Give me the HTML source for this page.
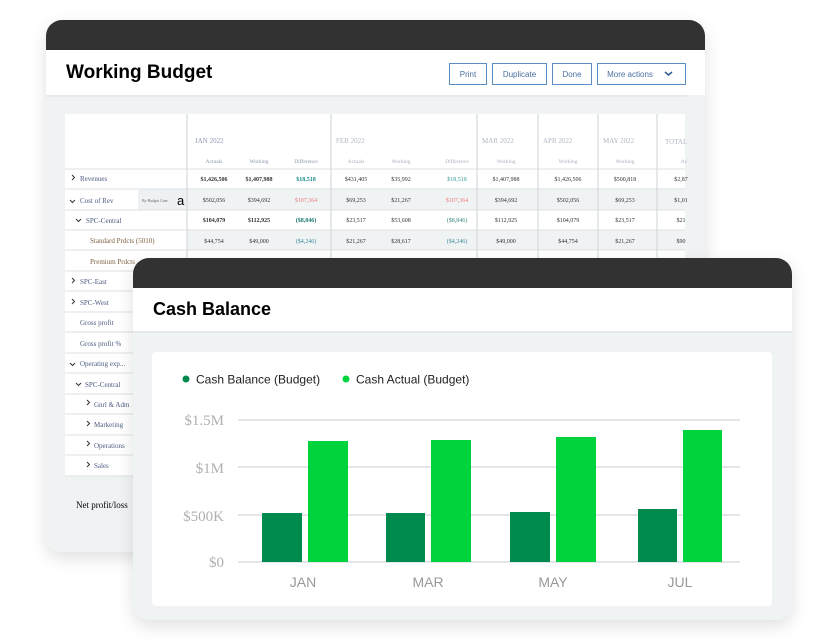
<!DOCTYPE html>
<html><head><meta charset="utf-8"><style>
html,body{margin:0;padding:0;background:#fff;width:817px;height:641px;overflow:hidden}
svg{display:block}
.s{font-family:"Liberation Serif",serif}
.a{font-family:"Liberation Sans","DejaVu Sans",sans-serif}
</style></head><body>
<svg width="817" height="641" viewBox="0 0 817 641" xmlns="http://www.w3.org/2000/svg">
<defs>
<filter id="sh" x="-10%" y="-10%" width="120%" height="125%"><feDropShadow dx="0" dy="6" stdDeviation="8" flood-color="#000" flood-opacity="0.12"/></filter>
<clipPath id="c1"><rect x="46" y="20" width="659" height="532" rx="16"/></clipPath>
<clipPath id="c2"><rect x="133" y="258" width="659" height="362" rx="16"/></clipPath>
</defs>

<!-- BACK CARD -->
<rect x="46" y="20" width="659" height="532" rx="16" fill="#f0f3f4" filter="url(#sh)"/>
<g clip-path="url(#c1)">
<rect x="46" y="20" width="659" height="30" fill="#323232"/>
<rect x="46" y="50" width="659" height="45" fill="#fff"/>
<rect x="46" y="95" width="659" height="2" fill="#e6eaec"/>
<text x="66" y="78" class="a" font-size="19" font-weight="bold" fill="#000">Working Budget</text>
<g class="a" font-size="8" fill="#4a6fa0" text-anchor="middle">
<rect x="449.5" y="63.5" width="37" height="21" fill="#fff" stroke="#5b8fc4"/><text x="468" y="77">Print</text>
<rect x="492.5" y="63.5" width="54" height="21" fill="#fff" stroke="#5b8fc4"/><text x="519.5" y="77">Duplicate</text>
<rect x="552.5" y="63.5" width="39" height="21" fill="#fff" stroke="#5b8fc4"/><text x="572" y="77">Done</text>
<rect x="597.5" y="63.5" width="88" height="21" fill="#fff" stroke="#5b8fc4"/><text x="630" y="77">More actions</text>
<path d="M665 72 l3.5 3 l3.5 -3" fill="none" stroke="#2c5d8f" stroke-width="1.5"/>
</g>
<!-- table -->
<rect x="65" y="114" width="620" height="362" fill="#fff"/>
<rect x="687" y="95" width="18" height="460" fill="#f0f3f4"/>
<rect x="187" y="189" width="498" height="21" fill="#f0f3f4"/>
<rect x="138" y="189" width="49" height="21" fill="#eef1f3"/>
<rect x="187" y="230" width="498" height="20" fill="#f0f3f4"/>
<g stroke="#e2e5e7" stroke-width="1.2">
<line x1="65" y1="169" x2="685" y2="169"/><line x1="65" y1="189" x2="685" y2="189"/>
<line x1="65" y1="210" x2="685" y2="210"/><line x1="65" y1="230" x2="685" y2="230"/>
<line x1="65" y1="250" x2="685" y2="250"/><line x1="65" y1="271" x2="685" y2="271"/>
<line x1="65" y1="291" x2="685" y2="291"/><line x1="65" y1="312" x2="685" y2="312"/>
<line x1="65" y1="332" x2="685" y2="332"/><line x1="65" y1="353" x2="685" y2="353"/>
<line x1="65" y1="373" x2="685" y2="373"/><line x1="65" y1="394" x2="685" y2="394"/>
<line x1="65" y1="414" x2="685" y2="414"/><line x1="65" y1="435" x2="685" y2="435"/>
<line x1="65" y1="455" x2="685" y2="455"/><line x1="65" y1="476" x2="685" y2="476"/>
</g>
<g stroke="#d6d9db" stroke-width="1.2">
<line x1="187" y1="114" x2="187" y2="476"/><line x1="331" y1="114" x2="331" y2="476"/>
<line x1="477" y1="114" x2="477" y2="476"/><line x1="538" y1="114" x2="538" y2="476"/>
<line x1="598" y1="114" x2="598" y2="476"/><line x1="657" y1="114" x2="657" y2="476"/>
</g>
<g class="s" font-size="7" fill="#9aa3b5">
<text x="195" y="143" fill="#8a96b0">JAN 2022</text><text x="336" y="143" fill="#b0b6c4">FEB 2022</text>
<text x="482" y="143" fill="#b0b6c4">MAR 2022</text><text x="543" y="143" fill="#b0b6c4">APR 2022</text>
<text x="603" y="143" fill="#b0b6c4">MAY 2022</text><text x="665" y="144" fill="#b0b6c4">TOTAL</text>
</g>
<g class="s" font-size="5.5" fill="#8a96b0" text-anchor="middle">
<text x="214" y="163">Actuals</text><text x="259" y="163">Working</text><text x="306" y="163">Difference</text>
<g fill="#aab1c0"><text x="356" y="163">Actuals</text><text x="401" y="163">Working</text><text x="457" y="163">Difference</text>
<text x="506" y="163">Working</text><text x="568" y="163">Working</text><text x="625" y="163">Working</text><text x="684" y="163">Ac</text></g>
</g>
<g class="s" font-size="6" fill="#333" text-anchor="middle">
<g font-weight="bold"><text x="214" y="181">$1,426,506</text><text x="259" y="181">$1,407,988</text><text x="306" y="181" fill="#1a8a8a">$18,518</text></g>
<text x="356" y="181">$431,405</text><text x="401" y="181">$35,992</text><text x="457" y="181" fill="#3a9a9a">$18,518</text><text x="506" y="181">$1,407,988</text><text x="568" y="181">$1,426,506</text><text x="625" y="181">$500,818</text><text x="681" y="181">$2,87</text>
<text x="214" y="202">$502,056</text><text x="259" y="202">$394,692</text><text x="306" y="202" fill="#f07a7a">$107,364</text>
<text x="356" y="202">$69,253</text><text x="401" y="202">$21,267</text><text x="457" y="202" fill="#f07a7a">$107,364</text><text x="506" y="202">$394,692</text><text x="568" y="202">$502,056</text><text x="625" y="202">$69,253</text><text x="681" y="202">$1,01</text>
<g font-weight="bold"><text x="214" y="222">$104,079</text><text x="259" y="222">$112,925</text><text x="306" y="222" fill="#1a7a70">($8,846)</text></g>
<text x="356" y="222">$23,517</text><text x="401" y="222">$53,608</text><text x="457" y="222" fill="#3a8a80">($8,846)</text><text x="506" y="222">$112,925</text><text x="568" y="222">$104,079</text><text x="625" y="222">$23,517</text><text x="681" y="222">$21</text>
<text x="214" y="243">$44,754</text><text x="259" y="243">$49,000</text><text x="306" y="243" fill="#3a8a9a">($4,246)</text>
<text x="356" y="243">$21,267</text><text x="401" y="243">$28,617</text><text x="457" y="243" fill="#3a8a9a">($4,246)</text><text x="506" y="243">$49,000</text><text x="568" y="243">$44,754</text><text x="625" y="243">$21,267</text><text x="681" y="243">$90</text>
</g>
<g class="s" font-size="7" fill="#4a5a80">
<text x="80" y="181">Revenues</text><text x="80" y="203">Cost of Rev</text>
<text x="86" y="223">SPC-Central</text><text x="90" y="243" fill="#806040">Standard Prdcts (5010)</text>
<text x="90" y="264" fill="#806040">Premium Prdcts</text>
<text x="80" y="284">SPC-East</text><text x="80" y="305">SPC-West</text>
<text x="80" y="325">Gross profit</text><text x="80" y="346">Gross profit %</text>
<text x="80" y="366">Operating exp...</text><text x="85" y="387">SPC-Central</text>
<text x="94" y="407">Gnrl &amp; Adm</text><text x="94" y="427">Marketing</text>
<text x="94" y="448">Operations</text><text x="94" y="468">Sales</text>
<text x="142" y="202" font-size="4" fill="#666">By Budget Line</text>
<text x="76" y="508" font-size="9" fill="#000">Net profit/loss</text>
</g>
<text x="177" y="205" class="a" font-size="13" fill="#000">a</text>
<g fill="none" stroke="#333" stroke-width="1">
<path d="M72 175 l2.5 2.5 l-2.5 2.5"/><path d="M70 200 l2.5 2.5 l2.5 -2.5"/><path d="M76 219 l2.5 2.5 l2.5 -2.5"/>
<path d="M72 278 l2.5 2.5 l-2.5 2.5"/><path d="M72 299 l2.5 2.5 l-2.5 2.5"/><path d="M70 363 l2.5 2.5 l2.5 -2.5"/>
<path d="M76 383 l2.5 2.5 l2.5 -2.5"/><path d="M87 400 l2.5 2.5 l-2.5 2.5"/><path d="M87 421 l2.5 2.5 l-2.5 2.5"/>
<path d="M87 441 l2.5 2.5 l-2.5 2.5"/><path d="M87 462 l2.5 2.5 l-2.5 2.5"/>
</g>
</g>

<!-- FRONT CARD -->
<rect x="133" y="258" width="659" height="362" rx="16" fill="#f0f3f4" filter="url(#sh)"/>
<g clip-path="url(#c2)">
<rect x="133" y="258" width="659" height="30" fill="#323232"/>
<rect x="133" y="288" width="659" height="44" fill="#fff"/>
<rect x="133" y="331" width="659" height="2" fill="#e6eaec"/>
<text x="153" y="315" class="a" font-size="18" font-weight="bold" fill="#000">Cash Balance</text>
<rect x="152" y="352" width="620" height="254" rx="4" fill="#fff"/>
<circle cx="186" cy="379" r="3.5" fill="#008a4e"/>
<text x="196" y="383.5" class="a" font-size="12" fill="#222">Cash Balance (Budget)</text>
<circle cx="346" cy="379" r="3.5" fill="#00d43c"/>
<text x="356" y="383.5" class="a" font-size="12" fill="#222">Cash Actual (Budget)</text>
<g stroke="#d8dde2" stroke-width="1.5">
<line x1="238" y1="420" x2="740" y2="420"/><line x1="238" y1="467" x2="740" y2="467"/>
<line x1="238" y1="515" x2="740" y2="515"/><line x1="238" y1="562" x2="740" y2="562"/>
</g>
<g class="s" font-size="15" fill="#b0b0b0" text-anchor="end">
<text x="224" y="425">$1.5M</text><text x="224" y="473">$1M</text><text x="224" y="521">$500K</text><text x="224" y="567">$0</text>
</g>
<g fill="#008a4e">
<rect x="262" y="513" width="40" height="49"/><rect x="386" y="513" width="39" height="49"/>
<rect x="510" y="512" width="40" height="50"/><rect x="638" y="509" width="39" height="53"/>
</g>
<g fill="#00d43c">
<rect x="308" y="441" width="40" height="121"/><rect x="431" y="440" width="40" height="122"/>
<rect x="556" y="437" width="40" height="125"/><rect x="683" y="430" width="39" height="132"/>
</g>
<g class="a" font-size="14" fill="#999" text-anchor="middle">
<text x="303" y="587">JAN</text><text x="428" y="587">MAR</text><text x="553" y="587">MAY</text><text x="680" y="587">JUL</text>
</g>
</g>
</svg>
</body></html>
